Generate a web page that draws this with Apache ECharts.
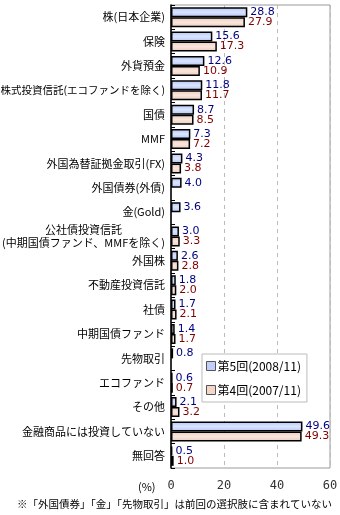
<!DOCTYPE html>
<html><head><meta charset="utf-8">
<script src="https://cdn.jsdelivr.net/npm/echarts@6/dist/echarts.min.js"></script>
<style>html,body{margin:0;padding:0;background:#fff}#c{width:340px;height:515px}</style>
</head><body><div id="c"></div>
<script>
const categories = ["株(日本企業)","保険","外貨預金","株式投資信託(エコファンドを除く)","国債","MMF","外国為替証拠金取引(FX)","外国債券(外債)","金(Gold)","公社債投資信託\n(中期国債ファンド、MMFを除く)","外国株","不動産投資信託","社債","中期国債ファンド","先物取引","エコファンド","その他","金融商品には投資していない","無回答"];
const series5 = [28.8,15.6,12.6,11.8,8.7,7.3,4.3,4.0,3.6,3.0,2.6,1.8,1.7,1.4,0.8,0.6,2.1,49.6,0.5];
const series4 = [27.9,17.3,10.9,11.7,8.5,7.2,3.8,null,null,3.3,2.8,2.0,2.1,1.7,null,0.7,3.2,49.3,1.0];
const seriesNames = ["第5回(2008/11)","第4回(2007/11)"];
const xTicks = [0,20,40,60];
const footnote = "※「外国債券」「金」「先物取引」は前回の選択肢に含まれていない";

const font = "'Noto Sans CJK JP', sans-serif";
const chart = echarts.init(document.getElementById('c'), null, {renderer:'canvas'});
const blueGrad = new echarts.graphic.LinearGradient(0,0,0,1,[{offset:0,color:'#b4c6f4'},{offset:0.5,color:'#dbe4ff'},{offset:1,color:'#b4c6f4'}]);
const pinkGrad = new echarts.graphic.LinearGradient(0,0,0,1,[{offset:0,color:'#eccabb'},{offset:0.5,color:'#f9e6de'},{offset:1,color:'#eccabb'}]);
chart.setOption({
  animation:false,
  textStyle:{fontFamily:font},
  grid:{left:171,right:10,top:5,bottom:47,show:true,borderColor:'#999',borderWidth:1,containLabel:false,outerBoundsMode:'none'},
  legend:{orient:'vertical',left:202,top:354,width:104,height:48,padding:[6,6,6,4],
    backgroundColor:'#fff',borderColor:'#bbb',borderWidth:1,itemWidth:9,itemHeight:9,itemGap:12,
    data:[{name:seriesNames[0],icon:'rect',itemStyle:{color:'#c0d0f8',borderColor:'#555',borderWidth:1}},
          {name:seriesNames[1],icon:'rect',itemStyle:{color:'#f2d6c8',borderColor:'#555',borderWidth:1}}],
    textStyle:{fontSize:12,color:'#000',fontFamily:font,padding:[0,0,0,-3]}},
  xAxis:{type:'value',min:xTicks[0],max:xTicks[xTicks.length-1],interval:20,
    axisLine:{show:false},axisTick:{show:false},
    splitLine:{show:true,lineStyle:{color:'#bbb',type:[4,4]}},
    axisLabel:{fontSize:12,color:'#333',margin:12,fontFamily:"'DejaVu Sans Mono', monospace"}},
  yAxis:{type:'category',data:categories,inverse:true,
    axisLine:{show:true,lineStyle:{color:'#000',width:1.5}},
    axisTick:{show:true,inside:true,length:4,lineStyle:{color:'#000'}},
    axisLabel:{fontSize:11,color:'#000',margin:6,fontFamily:font,lineHeight:13,
      formatter:function(v){
        if(v.indexOf('\n')>=0){const p=v.split('\n');return '{c|'+p[0]+'}\n{c|'+p[1]+'}';}
        if(v.length>14) return '{s|'+v+'}';
        return v;},
      rich:{c:{align:'center',fontSize:11,fontFamily:font,lineHeight:13},s:{fontSize:10.5,fontFamily:font}}}},
  series:[
    {name:seriesNames[0],type:'bar',data:series5,barWidth:10,barGap:'0%',
     itemStyle:{color:blueGrad,borderColor:'#000',borderWidth:1.5},
     label:{show:true,position:'right',distance:3,color:'#000080',fontSize:11,fontFamily:"'DejaVu Sans', sans-serif",formatter:p=>p.value.toFixed(1)}},
    {name:seriesNames[1],type:'bar',data:series4,barWidth:10,barGap:'0%',
     itemStyle:{color:pinkGrad,borderColor:'#000',borderWidth:1.5},
     label:{show:true,position:'right',distance:3,color:'#800000',fontSize:11,fontFamily:"'DejaVu Sans', sans-serif",formatter:p=>p.value==null?'':p.value.toFixed(1)}}
  ],
  graphic:[
    {type:'text',left:138,top:481,style:{text:'(%)',fill:'#000',font:"11px "+font}},
    {type:'text',left:17,top:499,style:{text:footnote,fill:'#000',font:"10.5px "+font}}
  ]
});
</script></body></html>
